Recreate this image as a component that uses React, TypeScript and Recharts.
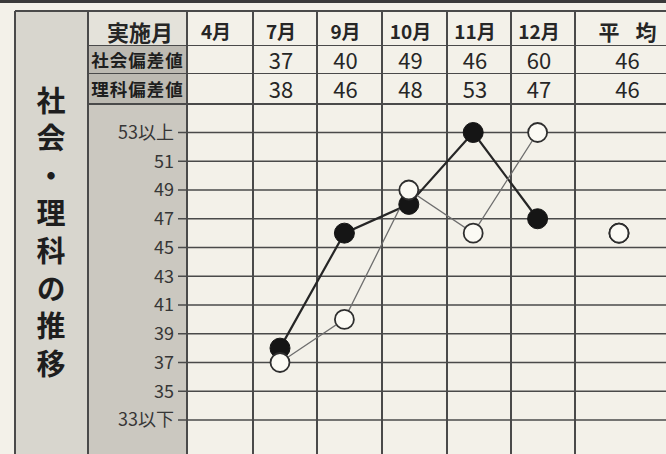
import { LineChart, Line, XAxis, YAxis, CartesianGrid } from 'recharts';

const months = ['4月', '7月', '9月', '10月', '11月', '12月'];
const socialScores: (number | null)[] = [null, 37, 40, 49, 46, 60];
const scienceScores: (number | null)[] = [null, 38, 46, 48, 53, 47];
const avgLabel = '平均';
const socialAvg = 46;
const scienceAvg = 46;

const yTicks = [33, 35, 37, 39, 41, 43, 45, 47, 49, 51, 53];
const yFloor = 33;
const yCeil = 53;

const title = '社会・理科の推移';

const clamp = (v: number | null) => (v == null ? null : Math.min(yCeil, Math.max(yFloor, v)));

const monthData = months.map((m, i) => ({
  month: m,
  social: clamp(socialScores[i]),
  science: clamp(scienceScores[i]),
}));
const avgData = [{ month: avgLabel, social: clamp(socialAvg), science: clamp(scienceAvg) }];

const FONT = '"Noto Sans CJK JP", "Noto Sans", sans-serif';
const W = 666;
const H = 454;
const CH = 472; // chart taller than the page, the bottom is cut like the scan
const PLOT_TOP = 103.75;
const PLOT_BOTTOM = CH - (PLOT_TOP + 25 * 14.375);
const LINE = '#4a4a4a';
const colEdges = [187, 253, 317, 382, 447, 511, 575, 688];

const fmtTick = (v: number) => (v === yCeil ? `${v}以上` : v === yFloor ? `${v}以下` : `${v}`);

const dotFilled = { r: 10, fill: '#151515', stroke: '#151515', strokeWidth: 1 };
const dotOpen = { r: 9.5, fill: '#fbfaf4', stroke: '#2e2e2e', strokeWidth: 1.8 };

function Cell({ x, y, text, size, weight = 400 }: { x: number; y: number; text: React.ReactNode; size: number; weight?: number }) {
  return (
    <div
      style={{
        position: 'absolute',
        left: x - 60,
        width: 120,
        top: y - size,
        height: size * 2,
        lineHeight: `${size * 2}px`,
        textAlign: 'center',
        fontSize: size,
        fontWeight: weight,
        color: '#262626',
        whiteSpace: 'nowrap',
      }}
    >
      {text}
    </div>
  );
}

export default function App() {
  const centers = colEdges.slice(0, -1).map((e, i) => (e + colEdges[i + 1]) / 2 - 4);
  const socialRow = [...socialScores, socialAvg];
  const scienceRow = [...scienceScores, scienceAvg];

  return (
    <div style={{ position: 'relative', width: W, height: H, overflow: 'hidden', background: '#f3f1e9', fontFamily: FONT }}>
      <style>{'html,body{margin:0;overflow:hidden}'}</style>

      {/* top rule of the page */}
      <div style={{ position: 'absolute', left: 0, top: 0, width: W, height: 3, background: '#3a3a3a' }} />

      {/* title column and label column backgrounds */}
      <div style={{ position: 'absolute', left: 15, top: 11, width: 73, height: H, background: '#d8d6ce' }} />
      <div style={{ position: 'absolute', left: 88, top: 11, width: 99, height: 34, background: '#e4e2da' }} />
      <div style={{ position: 'absolute', left: 88, top: 45, width: 99, height: 59, background: '#bdbab2' }} />
      <div style={{ position: 'absolute', left: 88, top: 104, width: 99, height: H, background: '#cbc8c0' }} />

      {/* vertical title */}
      <div
        style={{
          position: 'absolute',
          left: 36,
          top: 86,
          width: 30,
          writingMode: 'vertical-rl',
          fontSize: 29,
          lineHeight: '30px',
          letterSpacing: 8.6,
          fontWeight: 700,
          color: '#1e1e1e',
        }}
      >
        {title}
      </div>

      {/* table rules */}
      <div style={{ position: 'absolute', left: 15, top: 10, width: W, height: 2, background: LINE }} />
      <div style={{ position: 'absolute', left: 88, top: 44.5, width: W, height: 1.5, background: LINE }} />
      <div style={{ position: 'absolute', left: 88, top: 72.5, width: W, height: 1.5, background: LINE }} />
      <div style={{ position: 'absolute', left: 88, top: 103, width: W, height: 2, background: LINE }} />
      {[15, 88, ...colEdges.slice(0, -1)].map((x) => (
        <div key={x} style={{ position: 'absolute', left: x - 0.75, top: 11, width: 1.5, height: H, background: LINE }} />
      ))}

      {/* header rows */}
      <Cell x={140} y={31} text="実施月" size={22} weight={700} />
      {months.map((m, i) => (
        <Cell key={m} x={centers[i]} y={31} text={m} size={19} weight={700} />
      ))}
      <Cell x={centers[6]} y={31} text={<><span style={{ letterSpacing: 16 }}>平</span>均</>} size={21} weight={700} />

      <div style={{ position: 'absolute', left: 88, width: 99, top: 46, height: 27, lineHeight: '27px', textAlign: 'center', fontSize: 17.5, fontWeight: 700, color: '#1e1e1e', letterSpacing: 1 }}>
        社会偏差値
      </div>
      <div style={{ position: 'absolute', left: 88, width: 99, top: 75, height: 28, lineHeight: '28px', textAlign: 'center', fontSize: 17.5, fontWeight: 700, color: '#1e1e1e', letterSpacing: 1 }}>
        理科偏差値
      </div>
      {socialRow.map((v, i) => (v == null ? null : <Cell key={'s' + i} x={centers[i]} y={59} text={v} size={22} />))}
      {scienceRow.map((v, i) => (v == null ? null : <Cell key={'r' + i} x={centers[i]} y={88} text={v} size={22} />))}

      {/* monthly plot */}
      <div style={{ position: 'absolute', left: 0, top: 0 }}>
        <LineChart width={W} height={CH} data={monthData} margin={{ top: PLOT_TOP, right: 0, bottom: PLOT_BOTTOM, left: 0 }}>
          <CartesianGrid vertical={false} stroke={LINE} strokeWidth={1.5} />
          <XAxis dataKey="month" type="category" scale="band" hide padding={{ left: 5.4, right: 96.2 }} />
          <YAxis
            type="number"
            domain={[30, 55]}
            ticks={yTicks}
            interval={0}
            width={178}
            axisLine={false}
            tickLine={false}
            tickSize={2}
            tickMargin={2}
            tickFormatter={fmtTick}
            tick={{ fontSize: 18, fill: '#363636', fontFamily: FONT }}
          />
          <Line dataKey="science" stroke="#262626" strokeWidth={2.2} dot={dotFilled} activeDot={false} isAnimationActive={false} />
          <Line dataKey="social" stroke="#6e6e6e" strokeWidth={1.3} dot={dotOpen} activeDot={false} isAnimationActive={false} />
        </LineChart>
      </div>

      {/* average column */}
      <div style={{ position: 'absolute', left: 575, top: 0 }}>
        <LineChart width={W - 575} height={CH} data={avgData} margin={{ top: PLOT_TOP, right: 0, bottom: PLOT_BOTTOM, left: 0 }}>
          <XAxis dataKey="month" type="category" scale="band" hide padding={{ left: 0, right: 3 }} />
          <YAxis type="number" domain={[30, 55]} hide />
          <Line dataKey="science" stroke="#262626" dot={dotFilled} activeDot={false} isAnimationActive={false} />
          <Line dataKey="social" stroke="#6e6e6e" dot={dotOpen} activeDot={false} isAnimationActive={false} />
        </LineChart>
      </div>
    </div>
  );
}
